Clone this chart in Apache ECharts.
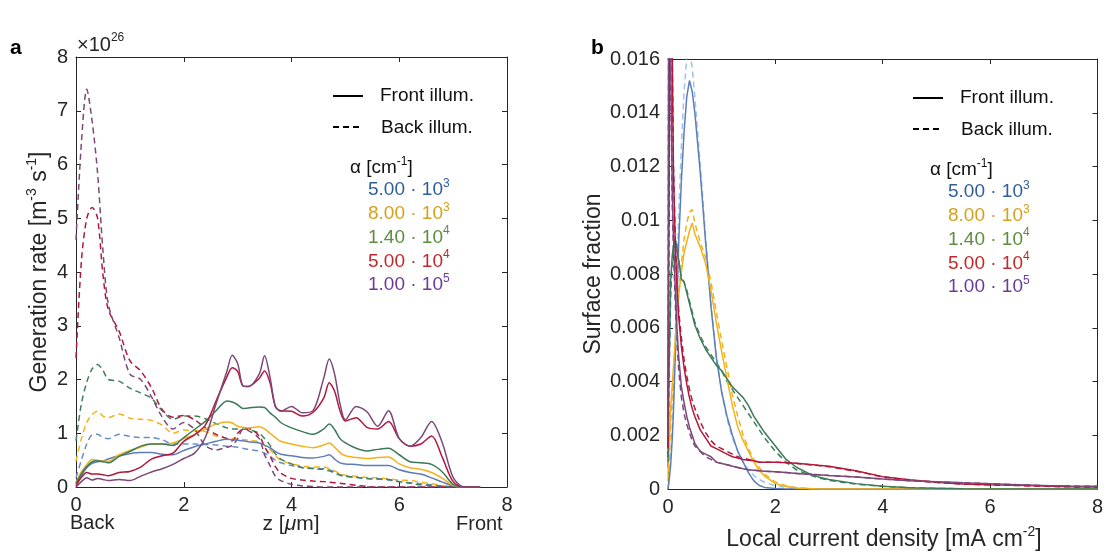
<!DOCTYPE html>
<html>
<head>
<meta charset="utf-8">
<script src="https://cdn.jsdelivr.net/npm/echarts@6/dist/echarts.min.js"></script>
<style>
  html, body { margin: 0; background: #fff; }
  #chart { width: 1106px; height: 556px; }
</style>
</head>
<body>
<div id="chart"></div>
<script>
// ---- panel a: generation rate vs depth (units of 1e26 m^-3 s^-1) ----
const zGen = [0, 0.1, 0.2, 0.3, 0.4, 0.5, 0.6, 0.8, 1.0, 1.2, 1.4, 1.6, 1.8, 2.0, 2.2, 2.4, 2.6, 2.8, 2.9, 3.0, 3.1, 3.2,
  3.4, 3.5, 3.6, 3.7, 3.8, 4.0, 4.2, 4.4, 4.6, 4.7, 4.8, 4.9, 5.0, 5.2, 5.4, 5.6, 5.8, 6.0, 6.2, 6.4, 6.6, 6.8, 7.0, 7.2, 7.5]

const genFront5e3 = [0.05, 0.22, 0.36, 0.44, 0.47, 0.48, 0.52, 0.58, 0.62, 0.64, 0.64, 0.61, 0.6, 0.68, 0.75, 0.8, 0.85, 0.89,
  0.88, 0.87, 0.86, 0.84, 0.82, 0.78, 0.73, 0.66, 0.61, 0.58, 0.55, 0.54, 0.57, 0.6, 0.52, 0.45, 0.43, 0.42, 0.4, 0.4, 0.4,
  0.32, 0.27, 0.24, 0.17, 0.09, 0.02, 0, 0]
const genFront8e3 = [0.09, 0.28, 0.42, 0.51, 0.5, 0.48, 0.48, 0.6, 0.68, 0.74, 0.8, 0.8, 0.82, 0.9, 0.98, 1.08, 1.17, 1.21,
  1.19, 1.13, 1.11, 1.1, 1.12, 1.08, 1.0, 0.92, 0.85, 0.8, 0.76, 0.73, 0.78, 0.82, 0.74, 0.64, 0.58, 0.55, 0.53, 0.55, 0.56,
  0.43, 0.36, 0.33, 0.27, 0.16, 0.03, 0, 0]
const genFront1p4e4 = [0.07, 0.25, 0.38, 0.47, 0.49, 0.47, 0.45, 0.57, 0.66, 0.76, 0.8, 0.8, 0.77, 0.92, 1.07, 1.22, 1.42, 1.6,
  1.58, 1.53, 1.46, 1.47, 1.49, 1.48, 1.38, 1.3, 1.2, 1.1, 1.03, 0.98, 1.08, 1.17, 1.07, 0.9, 0.82, 0.72, 0.67, 0.7, 0.72,
  0.6, 0.47, 0.45, 0.42, 0.28, 0.05, 0, 0]
const genFront5e4 = [0.02, 0.18, 0.27, 0.24, 0.24, 0.23, 0.21, 0.27, 0.29, 0.37, 0.52, 0.58, 0.63, 0.85, 0.97, 1.15, 1.6, 2.05,
  2.22, 2.15, 1.88, 1.87, 2.02, 2.16, 1.95, 1.5, 1.42, 1.41, 1.32, 1.39, 1.66, 1.94, 1.78, 1.42, 1.23, 1.29, 1.11, 1.08, 1.22,
  0.9, 0.76, 0.8, 0.95, 0.55, 0.1, 0, 0]
const genFront1e5 = [0, 0.1, 0.17, 0.13, 0.16, 0.14, 0.12, 0.14, 0.12, 0.2, 0.28, 0.34, 0.42, 0.53, 0.63, 0.92, 1.55, 2.15,
  2.45, 2.3, 1.88, 1.87, 2.1, 2.44, 2.05, 1.5, 1.41, 1.5, 1.38, 1.42, 2.03, 2.38, 2.1, 1.55, 1.25, 1.5, 1.4, 1.13, 1.42,
  0.9, 0.76, 0.92, 1.22, 0.82, 0.18, 0, 0]

const genBack5e3 = [0.17, 0.5, 0.8, 0.97, 0.98, 0.92, 0.9, 0.98, 0.94, 0.92, 0.92, 0.88, 0.8, 0.8, 0.8, 0.79, 0.78, 0.76,
  0.75, 0.74, 0.72, 0.7, 0.67, 0.63, 0.57, 0.5, 0.45, 0.4, 0.36, 0.35, 0.34, 0.32, 0.28, 0.23, 0.2, 0.18, 0.16, 0.15, 0.13,
  0.1, 0.08, 0.06, 0.04, 0.02, 0, 0, 0]
const genBack8e3 = [0.48, 0.9, 1.2, 1.35, 1.41, 1.32, 1.29, 1.36, 1.28, 1.26, 1.24, 1.15, 1.0, 1.06, 1.05, 1.03, 0.95, 0.91,
  0.9, 0.89, 0.88, 0.87, 0.84, 0.77, 0.7, 0.58, 0.5, 0.43, 0.39, 0.37, 0.37, 0.34, 0.3, 0.25, 0.22, 0.2, 0.18, 0.17, 0.15,
  0.13, 0.12, 0.09, 0.06, 0.03, 0.01, 0, 0]
const genBack1p4e4 = [0.86, 1.55, 1.95, 2.2, 2.28, 2.17, 2.0, 1.97, 1.84, 1.75, 1.65, 1.42, 1.26, 1.32, 1.32, 1.27, 1.18, 1.1,
  1.08, 1.08, 1.08, 1.07, 1.0, 0.9, 0.78, 0.62, 0.52, 0.43, 0.36, 0.34, 0.33, 0.3, 0.26, 0.22, 0.2, 0.18, 0.16, 0.15, 0.14,
  0.1, 0.07, 0.04, 0.03, 0.01, 0, 0, 0]
const genBack5e4 = [2.4, 4.2, 5.0, 5.2, 5.0, 3.95, 3.3, 2.9, 2.35, 2.16, 1.85, 1.44, 1.3, 1.33, 1.25, 1.1, 0.98, 0.9,
  0.86, 1.0, 1.08, 1.09, 0.95, 0.75, 0.58, 0.38, 0.26, 0.16, 0.13, 0.11, 0.1, 0.09, 0.08, 0.07, 0.06, 0.03, 0.01, 0, 0,
  0, 0, 0, 0, 0, 0, 0, 0]
const genBack1e5 = [4.6, 6.4, 7.4, 6.8, 5.85, 4.4, 3.4, 2.78, 2.1, 2.0, 1.68, 1.3, 1.08, 1.2, 1.07, 0.77, 0.69, 0.74,
  0.77, 0.9, 1.07, 1.05, 0.9, 0.6, 0.4, 0.2, 0.12, 0.05, 0.02, 0.01, 0, 0, 0, 0, 0, 0, 0, 0, 0,
  0, 0, 0, 0, 0, 0, 0, 0]

// ---- panel b: surface fraction vs local current density [mA cm^-2] ----
const jLocal = [0, 0.02, 0.05, 0.08, 0.1, 0.13, 0.16, 0.2, 0.25, 0.3, 0.35, 0.4, 0.45, 0.5, 0.6, 0.7, 0.8, 0.9, 1.0,
  1.1, 1.2, 1.3, 1.4, 1.5, 1.6, 1.7, 1.8, 2.0, 2.2, 2.4, 2.6, 2.8, 3.0, 3.5, 4.0, 4.5, 5.0, 5.5, 6.0, 6.5, 7.0, 7.5, 8.0]

const sfFront5e3 = [0, 0.0003, 0.0009, 0.0019, 0.0028, 0.0046, 0.0064, 0.0092, 0.0115, 0.0133, 0.0146, 0.0152, 0.0148, 0.014,
  0.0118, 0.0092, 0.0068, 0.0049, 0.0036, 0.0027, 0.002, 0.0014, 0.001, 0.0006, 0.0003, 0.00013, 0.00006,
  0.00002, 0, 0, 0, 0, 0, 0, 0, 0, 0, 0, 0, 0, 0, 0, 0]
const sfBack5e3 = [0, 0.0004, 0.0012, 0.0024, 0.0034, 0.0054, 0.0075, 0.0103, 0.0128, 0.0148, 0.0161, 0.0163, 0.0157, 0.0146,
  0.0121, 0.0094, 0.0069, 0.005, 0.0036, 0.0026, 0.0019, 0.0014, 0.001, 0.0007, 0.0005, 0.00035, 0.00025,
  0.00012, 0.00005, 0.00002, 0, 0, 0, 0, 0, 0, 0, 0, 0, 0, 0, 0, 0]
const sfFront8e3 = [0.0005, 0.0015, 0.003, 0.0039, 0.0045, 0.0054, 0.0062, 0.0072, 0.0081, 0.0088, 0.0092, 0.0096, 0.0099, 0.0095,
  0.009, 0.0084, 0.0074, 0.0062, 0.0051, 0.0041, 0.0031, 0.0023, 0.0018, 0.0014, 0.001, 0.0007, 0.00048,
  0.0002, 0.00009, 0.00004, 0.00002, 0, 0, 0, 0, 0, 0, 0, 0, 0, 0, 0, 0]
const sfBack8e3 = [0.0003, 0.001, 0.0025, 0.0035, 0.0042, 0.0052, 0.0062, 0.0073, 0.0084, 0.0093, 0.0099, 0.0103, 0.0104, 0.0099,
  0.0092, 0.0086, 0.0077, 0.0066, 0.0055, 0.0045, 0.0035, 0.0027, 0.002, 0.0015, 0.0011, 0.0008, 0.00055,
  0.00026, 0.00012, 0.00005, 0.00002, 0, 0, 0, 0, 0, 0, 0, 0, 0, 0, 0, 0]
const sfFront1p4e4 = [0.001, 0.0045, 0.0078, 0.0087, 0.009, 0.0093, 0.0091, 0.0085, 0.0078, 0.0077, 0.0073, 0.0069, 0.0065, 0.0061,
  0.0056, 0.0052, 0.0049, 0.0046, 0.0044, 0.0041, 0.0038, 0.0036, 0.0034, 0.0031, 0.0027, 0.0024, 0.0021,
  0.0016, 0.0011, 0.0008, 0.0006, 0.00045, 0.00035, 0.0002, 0.0001, 0.00005, 0.00003, 0.00001, 0, 0, 0, 0, 0]
const sfBack1p4e4 = [0.0008, 0.004, 0.0072, 0.0085, 0.0089, 0.0091, 0.009, 0.0085, 0.0079, 0.0077, 0.0074, 0.007, 0.0066, 0.0062,
  0.0057, 0.0053, 0.005, 0.0047, 0.0044, 0.004, 0.0037, 0.0034, 0.0031, 0.0028, 0.0025, 0.0022, 0.0019,
  0.0014, 0.001, 0.0007, 0.00055, 0.00042, 0.00032, 0.00018, 0.0001, 0.00005, 0.00002, 0.00001, 0, 0, 0, 0, 0]
const sfFront5e4 = [0.0015, 0.012, 0.03, 0.016, 0.012, 0.0095, 0.0078, 0.0064, 0.0053, 0.0045, 0.0039, 0.0034, 0.003, 0.0027,
  0.0022, 0.0019, 0.0016, 0.0015, 0.0014, 0.0013, 0.0012, 0.00115, 0.0011, 0.00107, 0.00105, 0.001, 0.001,
  0.001, 0.00098, 0.00096, 0.00092, 0.00088, 0.00085, 0.00068, 0.00046, 0.00034, 0.00025, 0.00019, 0.00016,
  0.00014, 0.00011, 0.00008, 0.00007]
const sfBack5e4 = [0.0012, 0.01, 0.028, 0.016, 0.0122, 0.0097, 0.008, 0.0066, 0.0056, 0.0048, 0.0042, 0.0037, 0.0033, 0.003,
  0.0025, 0.0021, 0.0018, 0.0016, 0.0015, 0.0014, 0.0013, 0.0012, 0.00115, 0.0011, 0.00105, 0.001, 0.001,
  0.001, 0.00098, 0.00095, 0.00091, 0.00087, 0.00083, 0.00066, 0.00045, 0.00033, 0.00024, 0.00018, 0.00015,
  0.00013, 0.0001, 0.00008, 0.00007]
const sfFront1e5 = [0.002, 0.03, 0.016, 0.011, 0.0095, 0.0077, 0.0062, 0.0049, 0.0038, 0.0032, 0.0027, 0.0023, 0.002, 0.0017,
  0.0014, 0.0013, 0.0012, 0.001, 0.00095, 0.0009, 0.00085, 0.0008, 0.00075, 0.00072, 0.0007, 0.00068, 0.00066,
  0.00064, 0.00061, 0.00058, 0.00055, 0.00053, 0.0005, 0.00045, 0.00037, 0.00031, 0.00027, 0.00023, 0.0002,
  0.00016, 0.00013, 0.00011, 0.0001]
const sfBack1e5 = [0.0018, 0.03, 0.015, 0.0105, 0.009, 0.0072, 0.0057, 0.0044, 0.0034, 0.0028, 0.0024, 0.0021, 0.0018, 0.0016,
  0.0014, 0.0012, 0.0011, 0.001, 0.00095, 0.0009, 0.00085, 0.0008, 0.00075, 0.00072, 0.0007, 0.00068, 0.00066,
  0.00064, 0.00061, 0.00058, 0.00055, 0.00053, 0.0005, 0.00045, 0.00037, 0.00031, 0.00027, 0.00023, 0.0002,
  0.00016, 0.00013, 0.00011, 0.0001]

// legend text
const alphaMantissa = ['5.00', '8.00', '1.40', '5.00', '1.00']
const alphaExponent = ['3', '3', '4', '4', '5']

const FONT = "'Liberation Sans', Arial, Helvetica, sans-serif"
const INK = '#262626'

// line colours (blue, orange, green, red, purple)
const lineColors = ['#5d7db6', '#f3b21b', '#3c7a58', '#b3173b', '#7b4878']
const backColorsA = ['#6b8cc6', '#f3b21b', '#3f805c', '#b3173b', '#7b4878']
const backColorsB = ['#9cc3ee', '#f3b21b', '#3f805c', '#b3173b', '#7b4878']
const legendColors = ['#2f5f99', '#d5a11c', '#5b8e3c', '#c4282b', '#6b3a9d']

const pairs = (xs, ys) => xs.map((x, i) => [x, ys[i]])

const makeLine = (axis, xs, ys, color, dashed, smooth) => ({
  type: 'line',
  xAxisIndex: axis,
  yAxisIndex: axis,
  data: pairs(xs, ys),
  symbol: 'none',
  smooth: smooth,
  silent: true,
  clip: true,
  lineStyle: { color, width: 1.5, type: dashed ? [6, 4] : 'solid' }
})

const genFront = [genFront5e3, genFront8e3, genFront1p4e4, genFront5e4, genFront1e5]
const genBack = [genBack5e3, genBack8e3, genBack1p4e4, genBack5e4, genBack1e5]
const sfFront = [sfFront5e3, sfFront8e3, sfFront1p4e4, sfFront5e4, sfFront1e5]
const sfBack = [sfBack5e3, sfBack8e3, sfBack1p4e4, sfBack5e4, sfBack1e5]

const series = []
genBack.forEach((ys, i) => series.push(makeLine(0, zGen, ys, backColorsA[i], true, 0.3)))
genFront.forEach((ys, i) => series.push(makeLine(0, zGen, ys, lineColors[i], false, 0.3)))
sfBack.forEach((ys, i) => series.push(makeLine(1, jLocal, ys, backColorsB[i], true, false)))
sfFront.forEach((ys, i) => series.push(makeLine(1, jLocal, ys, lineColors[i], false, false)))

const richFor = (size) => ({
  s: { fontSize: Math.round(size * 0.62), fontFamily: FONT, color: INK, verticalAlign: 'top', lineHeight: size + 6 },
  i: { fontSize: size, fontFamily: FONT, color: INK, fontStyle: 'italic', lineHeight: size + 6 }
})

const boxAxis = (gridIndex, position, min, max, interval) => ({
  type: 'value',
  gridIndex,
  position,
  min,
  max,
  interval,
  axisLine: { show: true, onZero: false, lineStyle: { color: INK, width: 1 } },
  axisTick: { show: true, inside: true, length: 5, lineStyle: { color: INK } },
  axisLabel: { show: false },
  splitLine: { show: false }
})

const mainLabel = { show: true, color: INK, fontSize: 20, fontFamily: FONT, margin: 8 }

const xAxes = [
  Object.assign(boxAxis(0, 'bottom', 0, 8, 2), { axisLabel: mainLabel }),
  Object.assign(boxAxis(1, 'bottom', 0, 8, 2), { axisLabel: mainLabel }),
  boxAxis(0, 'top', 0, 8, 2),
  boxAxis(1, 'top', 0, 8, 2)
]

const yAxes = [
  Object.assign(boxAxis(0, 'left', 0, 8, 1), { axisLabel: mainLabel }),
  Object.assign(boxAxis(1, 'left', 0, 0.016, 0.002), {
    axisLabel: Object.assign({}, mainLabel, { formatter: (v) => String(+v.toFixed(3)) })
  }),
  boxAxis(0, 'right', 0, 8, 1),
  boxAxis(1, 'right', 0, 0.016, 0.002)
]

const txt = (x, y, text, opts, size) => {
  const fs = size || 19
  return {
    type: 'text',
    x,
    y,
    silent: true,
    style: Object.assign({
      text,
      fill: INK,
      font: fs + 'px ' + FONT,
      textVerticalAlign: 'middle',
      rich: richFor(fs)
    }, opts || {})
  }
}

// axis titles, centred on their axes
const axisTitle = (x, y, text, size, vertical) => Object.assign(
  txt(x, y, text, { textAlign: 'center' }, size),
  vertical ? { rotation: Math.PI / 2 } : {}
)

const legendGraphics = (dx, dy) => {
  const g = []
  g.push({ type: 'line', silent: true, shape: { x1: 333 + dx, y1: 96 + dy, x2: 363 + dx, y2: 96 + dy }, style: { stroke: '#000', lineWidth: 2 } })
  g.push({ type: 'line', silent: true, shape: { x1: 333 + dx, y1: 127 + dy, x2: 363 + dx, y2: 127 + dy }, style: { stroke: '#000', lineWidth: 2, lineDash: [6, 4] } })
  g.push(txt(380 + dx, 96 + dy, 'Front illum.', { fill: '#111' }))
  g.push(txt(381 + dx, 128 + dy, 'Back illum.', { fill: '#111' }))
  g.push(txt(350 + dx, 168 + dy, 'α [cm{s|-1}]', { fill: '#111' }))
  alphaMantissa.forEach((m, i) => {
    const c = legendColors[i]
    g.push(txt(368 + dx, 190 + dy + i * 23.8, m + ' · 10{e|' + alphaExponent[i] + '}', {
      fill: c,
      rich: { e: { fontSize: 12, fontFamily: FONT, color: c, verticalAlign: 'top', lineHeight: 25 } }
    }))
  })
  return g
}

const graphics = [
  txt(10, 48, 'a', { font: 'bold 21px ' + FONT, fill: '#000' }),
  txt(591, 48, 'b', { font: 'bold 21px ' + FONT, fill: '#000' }),
  txt(77, 45, '×10{s|26}', null, 20),
  txt(70, 523, 'Back', null, 20),
  txt(456, 524, 'Front', null, 20),
  axisTitle(291, 524, 'z [{i|μ}m]', 21, false),
  axisTitle(884, 540, 'Local current density [mA cm{s|-2}]', 23, false),
  axisTitle(40, 272, 'Generation rate [m{s|-3} s{s|-1}]', 23, true),
  axisTitle(594, 274, 'Surface fraction', 23, true)
].concat(legendGraphics(0, 0), legendGraphics(580, 2))

const chart = echarts.init(document.getElementById('chart'), null, { renderer: 'canvas' })
chart.setOption({
  animation: false,
  backgroundColor: '#ffffff',
  grid: [
    { left: 76, top: 57, width: 431, height: 430 },
    { left: 668, top: 59, width: 432, height: 430 }
  ],
  xAxis: xAxes,
  yAxis: yAxes,
  series,
  graphic: graphics
})
</script>
</body>
</html>
